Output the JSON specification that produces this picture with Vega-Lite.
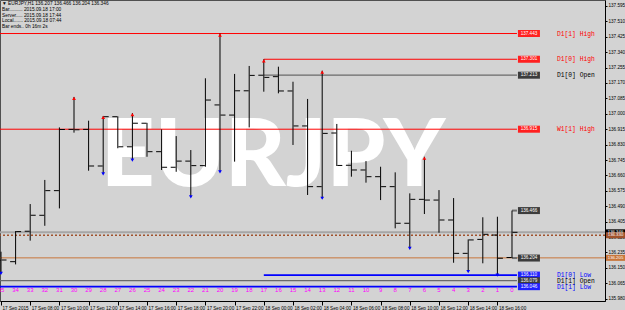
{
  "$schema": "https://vega.github.io/schema/vega-lite/v6.json",
  "width": 605,
  "height": 301,
  "autosize": {"type": "none"},
  "padding": {"left": 0, "top": 0, "right": 20, "bottom": 9},
  "background": "#d3d3d3",
  "config": {
    "view": {"stroke": "#505050", "strokeWidth": 1, "fill": "#d3d3d3"},
    "font": "Liberation Sans",
    "axis": {
      "labelOverlap": false, "labelFlush": false, "labelBound": false, "grid": false,
      "labelFont": "Liberation Sans", "labelFontSize": 4.6, "labelColor": "#000000",
      "tickColor": "#000000", "domainColor": "#000000", "title": null
    },
    "axisX": {"labelAlign": "left", "labelBaseline": "top", "labelOffset": 1, "labelPadding": 0.5, "tickSize": 4},
    "axisY": {"tickSize": 2, "labelPadding": 1}
  },
  "datasets": {
    "bars": [
      {"bar": 35, "open": 136.190, "high": 136.239, "low": 136.120, "close": 136.193, "up": false, "dn": true},
      {"bar": 34, "open": 136.184, "high": 136.353, "low": 136.169, "close": 136.350, "up": false, "dn": false},
      {"bar": 33, "open": 136.352, "high": 136.502, "low": 136.300, "close": 136.440, "up": false, "dn": false},
      {"bar": 32, "open": 136.440, "high": 136.635, "low": 136.382, "close": 136.576, "up": false, "dn": false},
      {"bar": 31, "open": 136.576, "high": 136.925, "low": 136.478, "close": 136.914, "up": false, "dn": false},
      {"bar": 30, "open": 136.914, "high": 137.093, "low": 136.896, "close": 136.912, "up": true, "dn": false},
      {"bar": 29, "open": 136.914, "high": 136.962, "low": 136.686, "close": 136.712, "up": false, "dn": false},
      {"bar": 28, "open": 136.712, "high": 136.988, "low": 136.668, "close": 136.984, "up": true, "dn": true},
      {"bar": 27, "open": 136.984, "high": 136.986, "low": 136.810, "close": 136.818, "up": false, "dn": false},
      {"bar": 26, "open": 136.818, "high": 137.004, "low": 136.745, "close": 136.948, "up": true, "dn": true},
      {"bar": 25, "open": 136.948, "high": 136.950, "low": 136.763, "close": 136.791, "up": false, "dn": false},
      {"bar": 24, "open": 136.791, "high": 136.914, "low": 136.690, "close": 136.705, "up": false, "dn": false},
      {"bar": 23, "open": 136.705, "high": 136.877, "low": 136.680, "close": 136.739, "up": false, "dn": false},
      {"bar": 22, "open": 136.739, "high": 136.800, "low": 136.542, "close": 136.714, "up": false, "dn": true},
      {"bar": 21, "open": 136.714, "high": 137.196, "low": 136.708, "close": 137.076, "up": false, "dn": false},
      {"bar": 20, "open": 137.049, "high": 137.443, "low": 136.680, "close": 136.993, "up": true, "dn": true},
      {"bar": 19, "open": 136.993, "high": 137.220, "low": 136.736, "close": 137.127, "up": false, "dn": false},
      {"bar": 18, "open": 137.127, "high": 137.264, "low": 136.925, "close": 137.212, "up": false, "dn": false},
      {"bar": 17, "open": 137.213, "high": 137.301, "low": 137.122, "close": 137.201, "up": true, "dn": false},
      {"bar": 16, "open": 137.205, "high": 137.260, "low": 137.113, "close": 137.126, "up": false, "dn": false},
      {"bar": 15, "open": 137.126, "high": 137.177, "low": 136.828, "close": 136.933, "up": false, "dn": false},
      {"bar": 14, "open": 136.933, "high": 137.082, "low": 136.552, "close": 136.598, "up": false, "dn": false},
      {"bar": 13, "open": 136.598, "high": 137.238, "low": 136.534, "close": 136.892, "up": true, "dn": true},
      {"bar": 12, "open": 136.894, "high": 136.944, "low": 136.712, "close": 136.715, "up": false, "dn": false},
      {"bar": 11, "open": 136.716, "high": 136.796, "low": 136.653, "close": 136.690, "up": false, "dn": false},
      {"bar": 10, "open": 136.690, "high": 136.739, "low": 136.620, "close": 136.653, "up": false, "dn": false},
      {"bar": 9, "open": 136.653, "high": 136.708, "low": 136.524, "close": 136.598, "up": false, "dn": false},
      {"bar": 8, "open": 136.598, "high": 136.677, "low": 136.368, "close": 136.396, "up": false, "dn": false},
      {"bar": 7, "open": 136.396, "high": 136.561, "low": 136.258, "close": 136.528, "up": false, "dn": true},
      {"bar": 6, "open": 136.528, "high": 136.763, "low": 136.447, "close": 136.524, "up": true, "dn": false},
      {"bar": 5, "open": 136.524, "high": 136.579, "low": 136.344, "close": 136.414, "up": false, "dn": false},
      {"bar": 4, "open": 136.414, "high": 136.535, "low": 136.178, "close": 136.230, "up": false, "dn": false},
      {"bar": 3, "open": 136.230, "high": 136.307, "low": 136.129, "close": 136.304, "up": false, "dn": true},
      {"bar": 2, "open": 136.307, "high": 136.429, "low": 136.175, "close": 136.335, "up": false, "dn": false},
      {"bar": 1, "open": 136.331, "high": 136.432, "low": 136.110, "close": 136.203, "up": false, "dn": true},
      {"bar": 0, "open": 136.207, "high": 136.466, "low": 136.204, "close": 136.346, "up": false, "dn": false}
    ],
    "levels": [
      {"name": "D1[1] High", "kind": "High", "price": 137.443, "from": 41},
      {"name": "D1[0] High", "kind": "High", "price": 137.301, "from": 17},
      {"name": "D1[0] Open", "kind": "Open", "price": 137.213, "from": 17},
      {"name": "W1[1] High", "kind": "High", "price": 136.915, "from": 41},
      {"name": "D1[0] Low", "kind": "Low", "price": 136.110, "from": 17},
      {"name": "D1[1] Open", "kind": "Open", "price": 136.079, "from": 41},
      {"name": "D1[1] Low", "kind": "Low", "price": 136.046, "from": 41},
      {"name": "", "kind": "Bar", "price": 136.466, "from": 0},
      {"name": "", "kind": "Bar", "price": 136.204, "from": 0}
    ],
    "market": [
      {"line": "Bid", "price": 136.346},
      {"line": "Ask", "price": 136.330},
      {"line": "Open", "price": 136.205}
    ]
  },
  "layer": [
    {
      "data": {"values": [{}]},
      "mark": {"type": "text", "text": "EURJPY", "font": "Lato", "fontWeight": 900, "fontSize": 94, "color": "#ffffff", "align": "center", "baseline": "alphabetic", "clip": true},
      "encoding": {
        "x": {"datum": 16.37, "type": "quantitative"},
        "y": {"datum": 136.600, "type": "quantitative"}
      }
    },
    {
      "data": {"name": "market"},
      "mark": {"type": "rule", "clip": true},
      "encoding": {
        "y": {"field": "price", "type": "quantitative"},
        "color": {"field": "line", "type": "nominal", "legend": null, "scale": {"domain": ["Bid", "Ask", "Open"], "range": ["#a6a6a6", "#a0522d", "#c8763a"]}},
        "strokeDash": {"field": "line", "type": "nominal", "legend": null, "scale": {"domain": ["Bid", "Ask", "Open"], "range": [[1, 0], [2, 2], [1, 0]]}},
        "size": {"field": "line", "type": "ordinal", "legend": null, "scale": {"domain": ["Bid", "Ask", "Open"], "range": [2, 1, 1]}}
      }
    },
    {
      "data": {"name": "levels"},
      "mark": {"type": "rule", "clip": true},
      "encoding": {
        "x": {"field": "from", "type": "quantitative"},
        "x2": {"datum": -0.34},
        "y": {"field": "price", "type": "quantitative"},
        "color": {"field": "kind", "type": "nominal", "legend": null, "scale": {"domain": ["High", "Open", "Low", "Bar"], "range": ["#ff0000", "#6a6a6a", "#0000ff", "#707070"]}},
        "size": {"field": "kind", "type": "ordinal", "legend": null, "scale": {"domain": ["High", "Open", "Low", "Bar"], "range": [1, 2, 1, 1.5]}}
      }
    },
    {
      "data": {"name": "levels"},
      "mark": {"type": "tick", "orient": "horizontal", "size": 22, "thickness": 7, "opacity": 1, "clip": false},
      "encoding": {
        "x": {"datum": -1.16, "type": "quantitative"},
        "y": {"field": "price", "type": "quantitative"},
        "color": {"field": "kind", "type": "nominal", "legend": null, "scale": {"domain": ["High", "Open", "Low", "Bar"], "range": ["#ff2020", "#3c3c3c", "#2020ff", "#3c3c3c"]}}
      }
    },
    {
      "data": {"name": "levels"},
      "mark": {"type": "text", "font": "Liberation Sans", "fontSize": 4.6, "color": "#ffffff", "align": "center", "baseline": "middle"},
      "encoding": {
        "x": {"datum": -1.16, "type": "quantitative"},
        "y": {"field": "price", "type": "quantitative"},
        "text": {"field": "price", "type": "quantitative", "format": ".3f"}
      }
    },
    {
      "data": {"name": "levels"},
      "transform": [{"filter": "datum.name != ''"}],
      "mark": {"type": "text", "font": "Liberation Mono", "fontSize": 6.3, "align": "left", "baseline": "middle"},
      "encoding": {
        "x": {"datum": -3.08, "type": "quantitative"},
        "y": {"field": "price", "type": "quantitative"},
        "text": {"field": "name", "type": "nominal"},
        "color": {"field": "kind", "type": "nominal", "legend": null, "scale": {"domain": ["High", "Open", "Low", "Bar"], "range": ["#ff0000", "#000000", "#0000ff", "#000000"]}}
      }
    },
    {
      "data": {"name": "bars"},
      "mark": {"type": "rule", "color": "#000000", "strokeWidth": 1, "clip": true},
      "encoding": {
        "x": {
          "field": "bar", "type": "quantitative",
          "scale": {"domain": [35.0685, -6.3699], "nice": false, "zero": false},
          "axis": {
            "values": [35, 33, 31, 29, 27, 25, 23, 21, 19, 17, 15, 13, 11, 9, 7, 5, 3, 1],
            "tickCount": 100,
            "labelOverlap": false,
            "labelExpr": "datum.value == 35 ? '17 Sep 2015' : (datum.value <= 17 ? '18 Sep ' + (17 - datum.value < 10 ? '0' : '') + (17 - datum.value) + ':00' : '17 Sep ' + (41 - datum.value < 10 ? '0' : '') + (41 - datum.value) + ':00')"
          }
        },
        "y": {
          "field": "low", "type": "quantitative",
          "scale": {"domain": [135.967, 137.628], "nice": false, "zero": false},
          "axis": {
            "orient": "right",
            "values": [137.595, 137.51, 137.425, 137.34, 137.255, 137.17, 137.085, 137.0, 136.915, 136.83, 136.745, 136.66, 136.575, 136.49, 136.405, 136.32, 136.235, 136.15, 136.065, 135.98],
            "tickCount": 100,
            "labelOverlap": false,
            "format": ".3f"
          }
        },
        "y2": {"field": "high"}
      }
    },
    {
      "data": {"name": "bars"},
      "mark": {"type": "tick", "orient": "horizontal", "size": 5, "thickness": 1, "xOffset": -3, "color": "#000000", "opacity": 1, "clip": true},
      "encoding": {
        "x": {"field": "bar", "type": "quantitative"},
        "y": {"field": "open", "type": "quantitative"}
      }
    },
    {
      "data": {"name": "bars"},
      "mark": {"type": "tick", "orient": "horizontal", "size": 5, "thickness": 1, "xOffset": 3, "color": "#000000", "opacity": 1, "clip": true},
      "encoding": {
        "x": {"field": "bar", "type": "quantitative"},
        "y": {"field": "close", "type": "quantitative"}
      }
    },
    {
      "data": {"name": "bars"},
      "transform": [{"filter": "datum.up"}],
      "mark": {"type": "point", "shape": "triangle-up", "filled": true, "size": 14, "color": "#ff0000", "opacity": 1, "yOffset": 1.5, "clip": true},
      "encoding": {
        "x": {"field": "bar", "type": "quantitative"},
        "y": {"field": "high", "type": "quantitative"}
      }
    },
    {
      "data": {"name": "bars"},
      "transform": [{"filter": "datum.dn"}],
      "mark": {"type": "point", "shape": "triangle-down", "filled": true, "size": 14, "color": "#0000ff", "opacity": 1, "yOffset": 0, "clip": true},
      "encoding": {
        "x": {"field": "bar", "type": "quantitative"},
        "y": {"field": "low", "type": "quantitative"}
      }
    },
    {
      "data": {"name": "bars"},
      "mark": {"type": "text", "fontSize": 6, "color": "#ff00ff", "align": "center", "baseline": "middle", "clip": true},
      "encoding": {
        "x": {"field": "bar", "type": "quantitative"},
        "y": {"datum": 136.027, "type": "quantitative"},
        "text": {"field": "bar", "type": "quantitative"}
      }
    },
    {
      "data": {"name": "market"},
      "mark": {"type": "tick", "orient": "horizontal", "size": 19, "thickness": 6, "opacity": 1, "clip": false},
      "encoding": {
        "x": {"datum": -7.09, "type": "quantitative"},
        "y": {"field": "price", "type": "quantitative"},
        "color": {"field": "line", "type": "nominal", "legend": null, "scale": {"domain": ["Bid", "Ask", "Open"], "range": ["#000000", "#a0522d", "#c8763a"]}}
      }
    },
    {
      "data": {"name": "market"},
      "mark": {"type": "text", "font": "Liberation Sans", "fontSize": 4.3, "color": "#ffffff", "align": "center", "baseline": "middle", "clip": false},
      "encoding": {
        "x": {"datum": -7.09, "type": "quantitative"},
        "y": {"field": "price", "type": "quantitative"},
        "text": {"field": "price", "type": "quantitative", "format": ".3f"}
      }
    },
    {
      "data": {"values": [{}]},
      "mark": {
        "type": "text",
        "text": ["▼ EURJPY,H1  136.207 136.466 136.204 136.346", "Bar.......... 2015.09.18 17:00", "Server..... 2015.09.18 17:44", "Local....... 2015.09.18 07:44", "Bar ends.. 0h 16m 2s"],
        "fontSize": 4.8, "lineHeight": 5.6, "color": "#000000", "align": "left", "baseline": "top"
      },
      "encoding": {
        "x": {"datum": 34.93, "type": "quantitative"},
        "y": {"datum": 137.62, "type": "quantitative"}
      }
    }
  ],
  "resolve": {"scale": {"color": "independent", "size": "independent", "strokeDash": "independent"}}
}
